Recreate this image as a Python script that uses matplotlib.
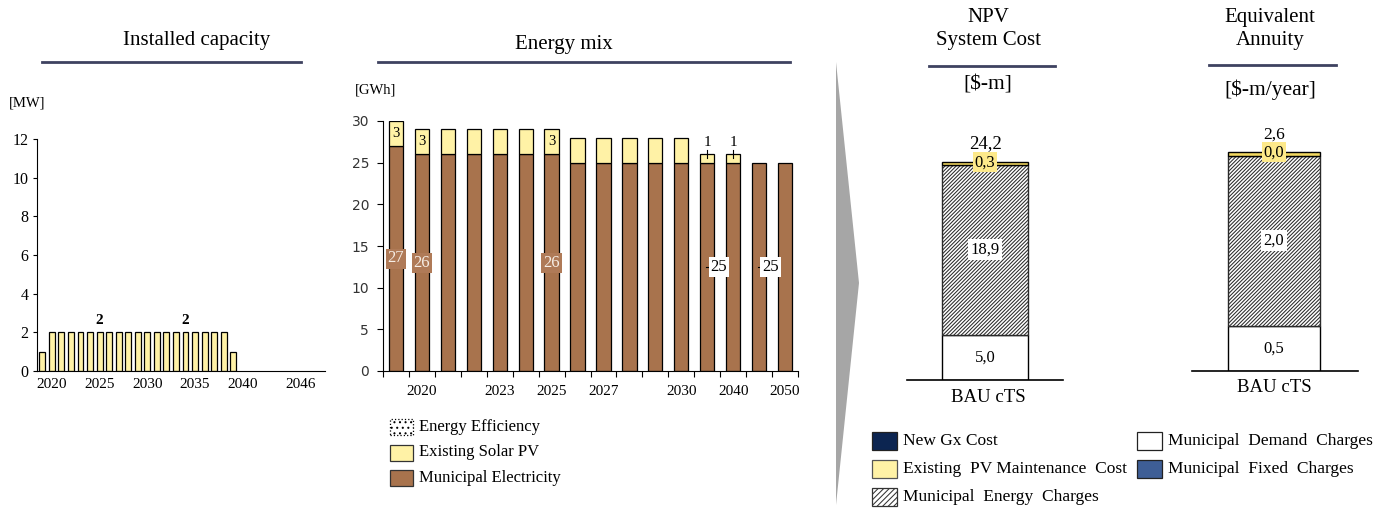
import matplotlib
matplotlib.use("Agg")
import matplotlib.pyplot as plt
from matplotlib.patches import Polygon, Rectangle
from matplotlib.lines import Line2D

plt.rcParams["font.family"] = ["Liberation Serif", "DejaVu Serif"]
plt.rcParams["hatch.linewidth"] = 0.75

W, H = 1389, 513

# ---------------- data ----------------
cap_years = list(range(2019, 2049))
cap_mw = [1] + [2] * 19 + [1] + [0] * 9
cap_ticks = [2020, 2025, 2030, 2035, 2040, 2046]
cap_labelled = [2025, 2034]

mix_years = ["2019", "2020", "2021", "2022", "2023", "2024", "2025", "2026",
             "2027", "2028", "2029", "2030", "2035", "2040", "2045", "2050"]
mix_shown = ["2020", "2023", "2025", "2027", "2030", "2040", "2050"]
mix_municipal = [27, 26, 26, 26, 26, 26, 26, 25, 25, 25, 25, 25, 25, 25, 25, 25]
mix_solar = [3, 3, 3, 3, 3, 3, 3, 3, 3, 3, 3, 3, 1, 1, 0, 0]
mix_efficiency = [0] * 16

cost_scenario = "BAU cTS"
npv_demand, npv_energy, npv_pv, npv_fixed, npv_gx = 5.0, 18.9, 0.3, 0.0, 0.0
ann_demand, ann_energy, ann_pv, ann_fixed, ann_gx = 0.54, 2.04, 0.04, 0.0, 0.0

# ---------------- colours ----------------
C_BROWN = "#A8734D"
C_YELLOW = "#FFF2A6"
C_NAVY = "#0C2551"
C_BLUE = "#3E5E96"
C_LINE = "#3E4260"


def fig_ax(left, top, right, bottom):
    """Axes from pixel box (left, top, right, bottom) measured from top-left."""
    return fig.add_axes([left / W, 1 - bottom / H, (right - left) / W, (bottom - top) / H])


def ftext(x, y, s, **kw):
    fig.text(x / W, 1 - y / H, s, **kw)


def fline(x0, x1, y, **kw):
    fig.add_artist(Line2D([x0 / W, x1 / W], [1 - y / H, 1 - y / H],
                          transform=fig.transFigure, **kw))


fig = plt.figure(figsize=(W / 100, H / 100), dpi=100)

# ---------------- Installed capacity ----------------
ax1 = fig_ax(37, 139, 325, 371)
ax1.bar(cap_years, cap_mw, width=0.62, color=C_YELLOW, edgecolor="black",
        linewidth=[0.9 if v > 0 else 0 for v in cap_mw])
ax1.set_ylim(0, 12)
ax1.set_xlim(2019 - 0.55, 2048.6)
ax1.set_yticks(range(0, 13, 2))
ax1.set_xticks(cap_ticks)
ax1.tick_params(axis="x", length=0, labelsize=11, pad=5)
ax1.tick_params(axis="y", length=3, labelsize=11.5, pad=3)
for s in ("top", "right"):
    ax1.spines[s].set_visible(False)
for yr in cap_labelled:
    v = cap_mw[cap_years.index(yr)]
    ax1.text(yr, v + 0.3, f"{v}", ha="center", va="bottom", fontsize=11, fontweight="bold")
ftext(27, 103, "[MW]", ha="center", va="center", fontsize=10.5)
ftext(197, 41, "Installed capacity", ha="center", va="center", fontsize=15)
fline(42, 301, 62, color=C_LINE, linewidth=2)

# ---------------- Energy mix ----------------
ax2 = fig_ax(383, 121, 798, 371)
x = list(range(len(mix_years)))
bw = 0.55
ax2.bar(x, mix_municipal, width=bw, color=C_BROWN, edgecolor="black", linewidth=0.9)
ax2.bar(x, mix_solar, width=bw, bottom=mix_municipal, color=C_YELLOW,
        edgecolor="black", linewidth=[0.9 if v > 0 else 0 for v in mix_solar])
ax2.set_ylim(0, 30)
ax2.set_xlim(-0.5, 15.5)
ax2.set_yticks(range(0, 31, 5))
ax2.set_xticks([i - 0.5 for i in range(len(mix_years) + 1)])
ax2.set_xticklabels([])
ax2.set_xticks([mix_years.index(y) for y in mix_shown], minor=True)
ax2.set_xticklabels(mix_shown, minor=True)
ax2.tick_params(axis="x", which="major", length=4, direction="out")
ax2.tick_params(axis="x", which="minor", length=0, labelsize=11, pad=10)
ax2.tick_params(axis="y", length=4, pad=6)
for lab in ax2.get_yticklabels():
    lab.set_fontfamily("DejaVu Sans")
    lab.set_fontsize(10)
    lab.set_color("#333333")
for s in ("top", "right"):
    ax2.spines[s].set_visible(False)

# value labels inside the bars
for i in (0, 1, 6):
    ax2.text(i, mix_municipal[i] + mix_solar[i] / 2, f"{mix_solar[i]}",
             ha="center", va="center", fontsize=10.5)
    ax2.text(i, mix_municipal[i] / 2, f"{mix_municipal[i]}", ha="center", va="center",
             fontsize=12, color="#F6EEE6",
             bbox=dict(boxstyle="square,pad=0.12", fc="#AF7A57", ec="none"))
for i in (12, 13):
    ax2.plot([i, i], [mix_municipal[i] + mix_solar[i] / 2, mix_municipal[i] + mix_solar[i] + 0.5],
             color="black", linewidth=0.8)
    ax2.text(i, mix_municipal[i] + mix_solar[i] + 0.6, f"{mix_solar[i]}",
             ha="center", va="bottom", fontsize=11)
for i in (12, 14):
    ax2.plot([i - 0.05, i + 0.12], [mix_municipal[i] / 2] * 2, color="black", linewidth=0.8)
    ax2.text(i + 0.45, mix_municipal[i] / 2, f"{mix_municipal[i]}", ha="center", va="center",
             fontsize=12, bbox=dict(boxstyle="square,pad=0.12", fc="white", ec="none"))

ftext(376, 90, "[GWh]", ha="center", va="center", fontsize=10.5)
ftext(564, 44, "Energy mix", ha="center", va="center", fontsize=15)
fline(378, 790, 62, color=C_LINE, linewidth=2)

# energy mix legend
mix_legend = [
    ("Energy Efficiency", dict(fc="white", ec="black", hatch="...", ls=":")),
    ("Existing Solar PV", dict(fc=C_YELLOW, ec="#333333")),
    ("Municipal Electricity", dict(fc=C_BROWN, ec="#333333")),
]
for k, (name, sty) in enumerate(mix_legend):
    yc = 427 + k * 25.5
    fig.add_artist(Rectangle((390 / W, 1 - (yc + 8) / H), 23 / W, 16 / H,
                             transform=fig.transFigure, linewidth=0.9, **sty))
    ftext(419, yc, name, ha="left", va="center", fontsize=12)

# ---------------- separating chevron ----------------
fig.add_artist(Polygon([(836 / W, 1 - 62 / H), (859 / W, 1 - 283 / H), (836 / W, 1 - 505 / H)],
                       closed=True, transform=fig.transFigure, fc="#A6A6A6", ec="none"))


# ---------------- cost bars ----------------
def cost_panel(box, xl, ymax, demand, energy, pv, total_dy, lab_fs):
    ax = fig_ax(*box)
    ax.bar([0], [demand], width=1, color="white", edgecolor="black", linewidth=1.0)
    ax.bar([0], [energy], width=1, bottom=[demand], color="white", edgecolor="#2A2A2A",
           hatch="/////////", linewidth=1.0)
    ax.bar([0], [pv], width=1, bottom=[demand + energy], color="#F2D860",
           edgecolor="black", linewidth=1.0)
    total = demand + energy + pv
    ax.set_xlim(*xl)
    ax.set_ylim(0, ymax)
    ax.axis("off")
    ax.axhline(0, color="black", linewidth=1.2, clip_on=False)

    def fmt(v):
        return f"{v:.1f}".replace(".", ",")

    ax.text(0, demand / 2, fmt(demand), ha="center", va="center", fontsize=12)
    ax.text(0, demand + energy / 2, fmt(energy), ha="center", va="center", fontsize=12,
            bbox=dict(boxstyle="square,pad=0.15", fc="white", ec="none"))
    ax.text(0, total, fmt(pv), ha="center", va="center", fontsize=12,
            bbox=dict(boxstyle="square,pad=0.12", fc="#FDE98A", ec="none"))
    ax.text(0, total + total_dy, fmt(total), ha="center", va="bottom", fontsize=lab_fs)
    return ax


cost_panel((907, 130, 1063, 380), (-0.907, 0.907), 250 / 9.0,
           npv_demand, npv_energy, npv_pv, 1.1, 13.5)
cost_panel((1192, 121, 1358, 371), (-0.891, 0.913), 250 / 83.5,
           ann_demand, ann_energy, ann_pv, 0.12, 12.5)

ftext(988, 398, cost_scenario, ha="center", va="center", fontsize=13.5)
ftext(1274, 387, cost_scenario, ha="center", va="center", fontsize=13.5)

ftext(988, 29, "NPV\nSystem Cost", ha="center", va="center", fontsize=15, linespacing=1.3)
fline(929, 1055, 66, color=C_LINE, linewidth=2)
ftext(988, 85, "[$-m]", ha="center", va="center", fontsize=15.5)

ftext(1270, 29, "Equivalent\nAnnuity", ha="center", va="center", fontsize=15, linespacing=1.3)
fline(1209, 1336, 65, color=C_LINE, linewidth=2)
ftext(1270, 90, "[$-m/year]", ha="center", va="center", fontsize=15.5)

# cost legend
cost_legend = [
    (872, 441, "New Gx Cost", dict(fc=C_NAVY, ec="#222222")),
    (872, 469, "Existing  PV Maintenance  Cost", dict(fc=C_YELLOW, ec="#555555")),
    (872, 497, "Municipal  Energy  Charges", dict(fc="white", ec="#333333", hatch="//////")),
    (1137, 441, "Municipal  Demand  Charges", dict(fc="white", ec="#222222")),
    (1137, 469, "Municipal  Fixed  Charges", dict(fc=C_BLUE, ec="#222222")),
]
for px, yc, name, sty in cost_legend:
    fig.add_artist(Rectangle((px / W, 1 - (yc + 9) / H), 25 / W, 18 / H,
                             transform=fig.transFigure, linewidth=0.9, **sty))
    ftext(px + 31, yc, name, ha="left", va="center", fontsize=12.5)

fig.savefig("out.png", dpi=100)
